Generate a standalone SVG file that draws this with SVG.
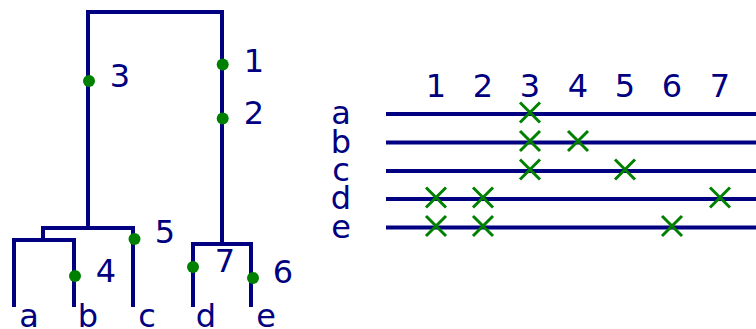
<svg xmlns="http://www.w3.org/2000/svg" width="756" height="329" viewBox="0 0 756 329">
<defs>
<style>
.e{fill:none;stroke:#000080;stroke-width:4;stroke-linecap:butt;stroke-linejoin:miter}
.d{fill:#008000}
.t{font-family:"DejaVu Sans",sans-serif;font-size:32px;fill:#000080;text-anchor:middle}
.x{stroke:#008000;stroke-width:3;fill:none}
</style>
<path id="xm" d="M-10,-10L10,10M-10,10L10,-10"/>
</defs>
<g id="connectors">
<path class="e" d="M88,228V12H222V244"/>
<path class="e" d="M43,240V228H133V307"/>
<path class="e" d="M14,307V240H74V307"/>
<path class="e" d="M193,307V244H251V307"/>
</g>
<g id="mutations">
<circle class="d" cx="89" cy="81" r="6"/><text class="t" x="120" y="87">3</text>
<circle class="d" cx="222.7" cy="64.5" r="6"/><text class="t" x="254" y="72">1</text>
<circle class="d" cx="222.7" cy="118.5" r="6"/><text class="t" x="254" y="124">2</text>
<circle class="d" cx="134.5" cy="239" r="6"/><text class="t" x="165" y="243">5</text>
<circle class="d" cx="75" cy="276" r="6"/><text class="t" x="106" y="282">4</text>
<circle class="d" cx="193" cy="267" r="6"/><text class="t" x="225" y="272">7</text>
<circle class="d" cx="253" cy="278" r="6"/><text class="t" x="283" y="283">6</text>
</g>
<g id="leaves">
<text class="t" x="29" y="327">a</text>
<text class="t" x="88" y="327">b</text>
<text class="t" x="147" y="327">c</text>
<text class="t" x="206" y="327">d</text>
<text class="t" x="266" y="327">e</text>
</g>
<g id="matrix">
<g class="e">
<path d="M386,114H756"/>
<path d="M386,142.5H756"/>
<path d="M386,171H756"/>
<path d="M386,199H756"/>
<path d="M386,227.5H756"/>
</g>
<text class="t" x="341" y="124">a</text>
<text class="t" x="341" y="153">b</text>
<text class="t" x="341" y="181">c</text>
<text class="t" x="341" y="209">d</text>
<text class="t" x="341" y="237.5">e</text>
<text class="t" x="436" y="97">1</text>
<text class="t" x="483" y="97">2</text>
<text class="t" x="530" y="97">3</text>
<text class="t" x="578" y="97">4</text>
<text class="t" x="625" y="97">5</text>
<text class="t" x="672" y="97">6</text>
<text class="t" x="720" y="97">7</text>
<g class="x">
<use href="#xm" x="530" y="112.5"/>
<use href="#xm" x="530" y="141"/>
<use href="#xm" x="578" y="141"/>
<use href="#xm" x="530" y="169.5"/>
<use href="#xm" x="625" y="169.5"/>
<use href="#xm" x="436" y="197.5"/>
<use href="#xm" x="483" y="197.5"/>
<use href="#xm" x="720" y="197.5"/>
<use href="#xm" x="436" y="226"/>
<use href="#xm" x="483" y="226"/>
<use href="#xm" x="672" y="226"/>
</g>
</g>
</svg>
